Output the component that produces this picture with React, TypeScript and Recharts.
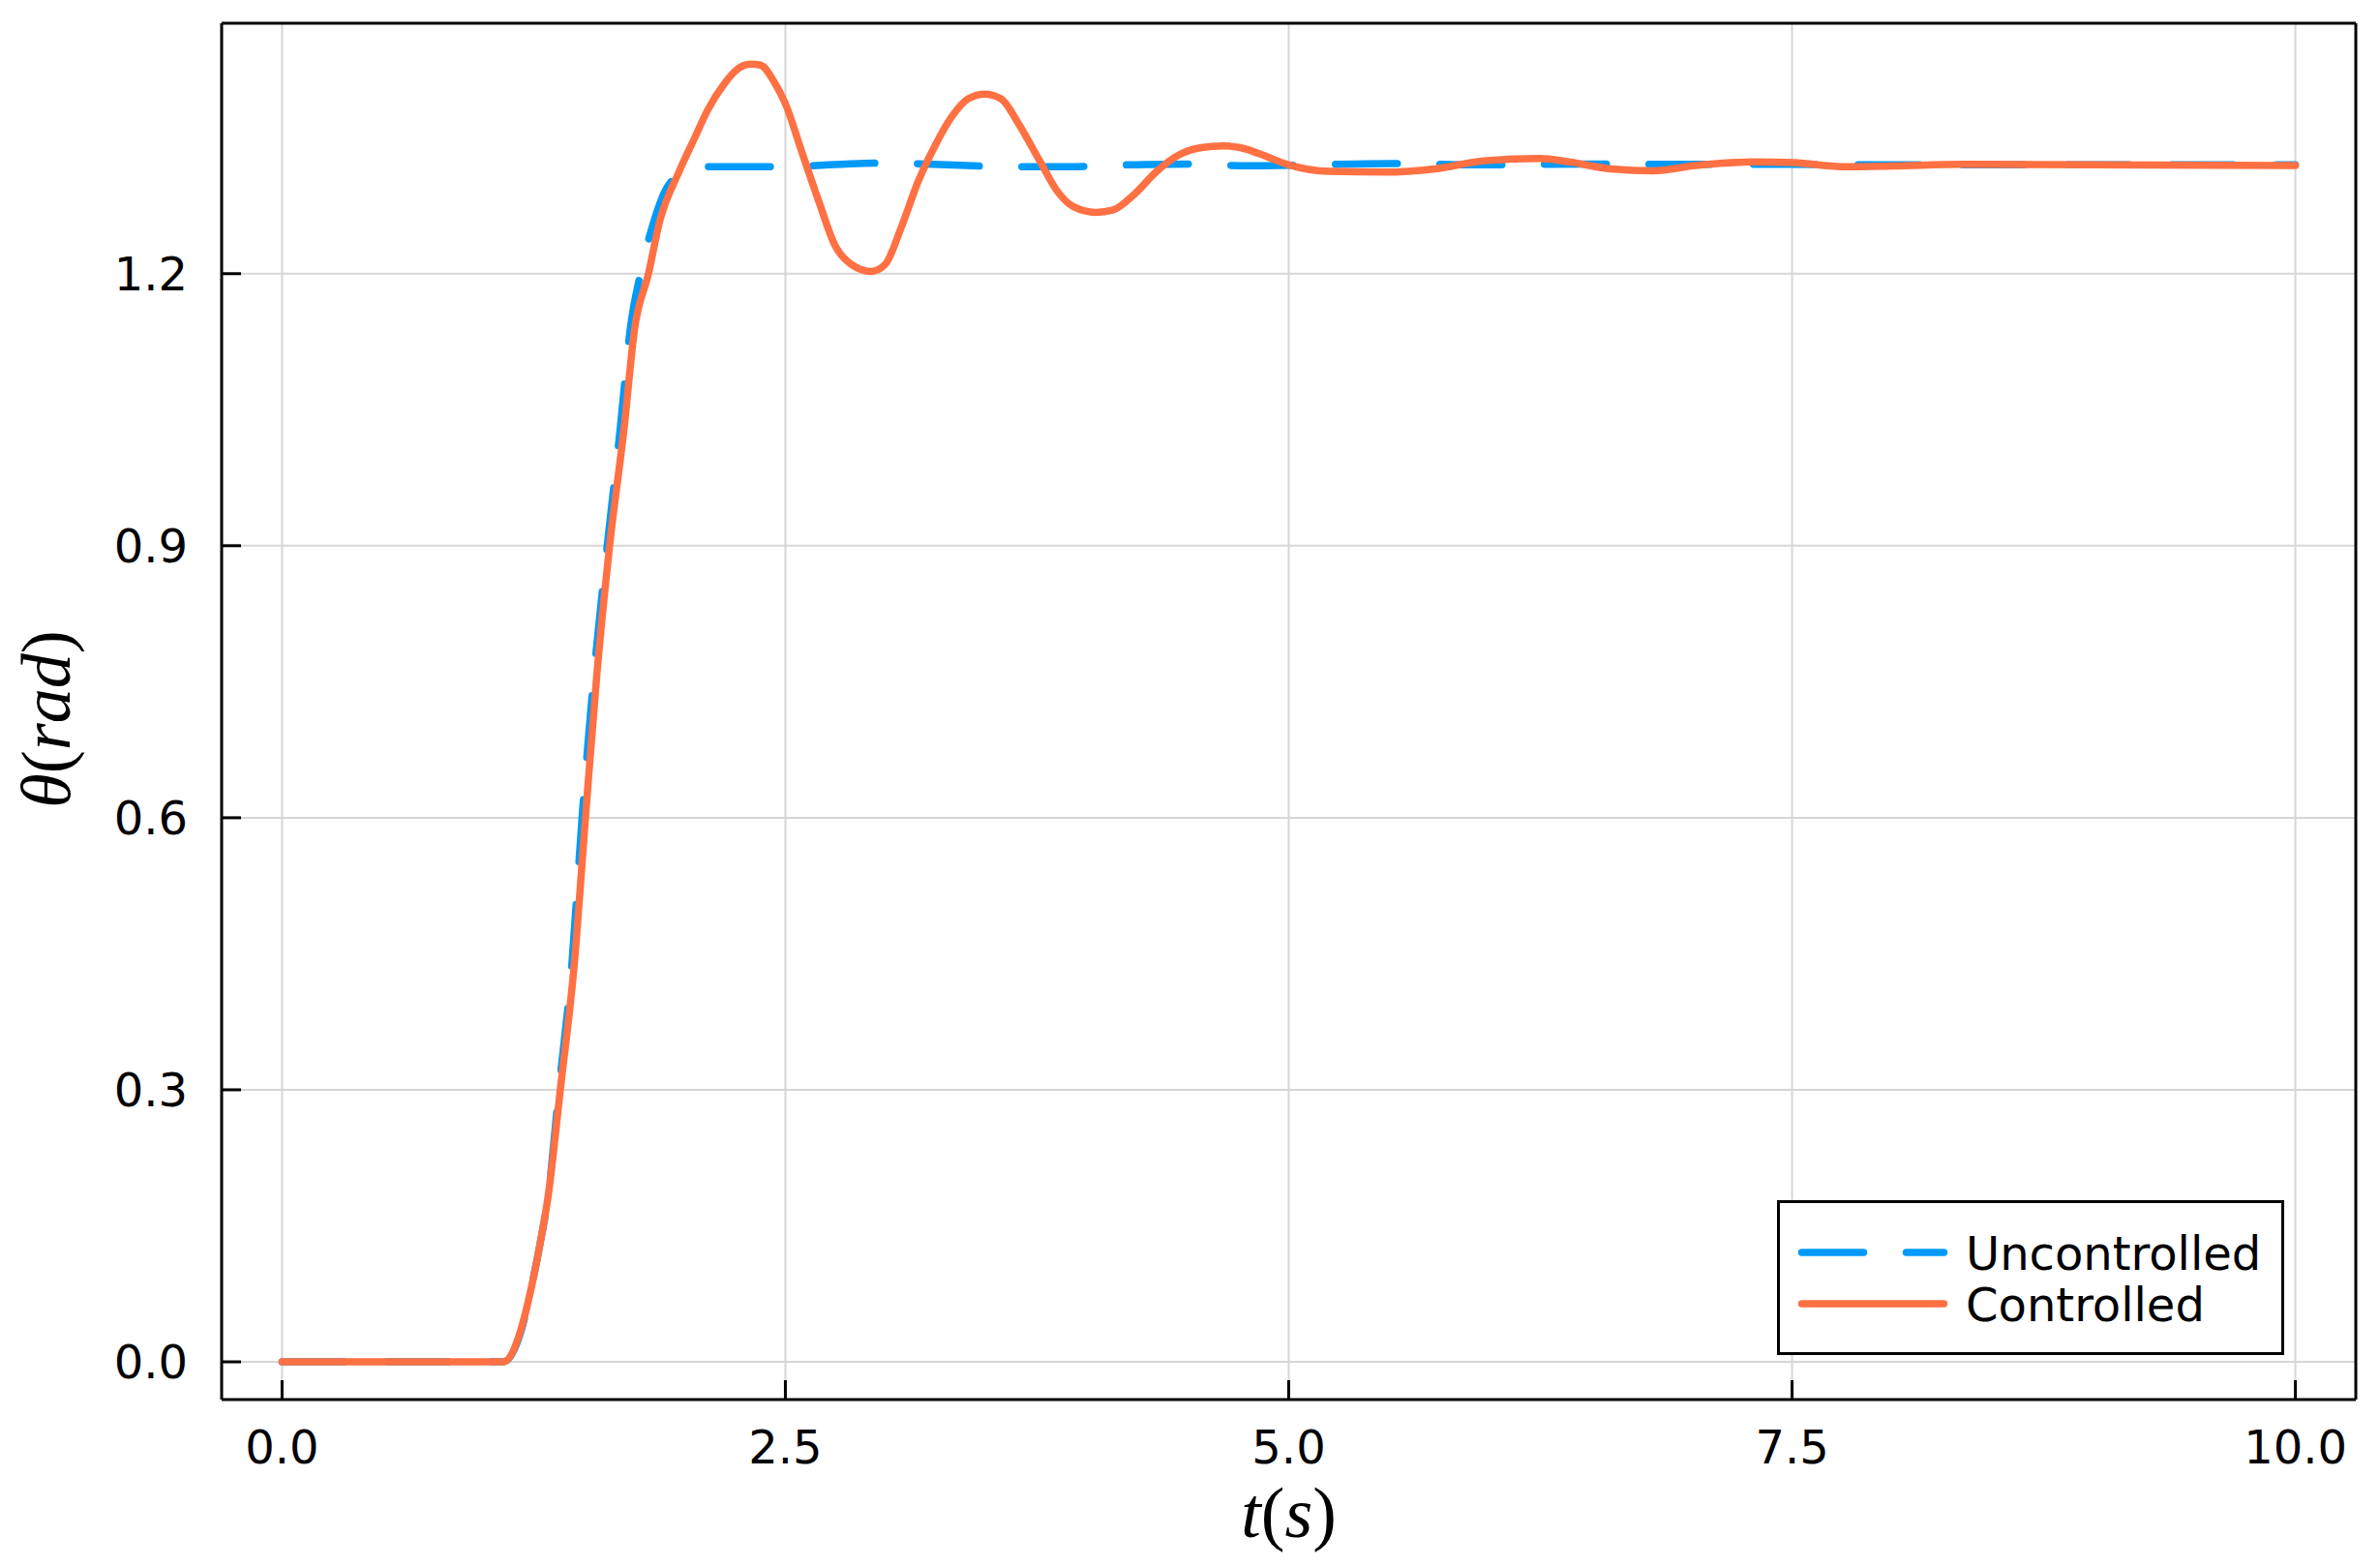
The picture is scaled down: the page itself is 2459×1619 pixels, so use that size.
import React from 'react';
import { LineChart, Line, XAxis, YAxis, CartesianGrid, Legend } from 'recharts';

// ---- data ----
const X_TICKS = [0, 2.5, 5, 7.5, 10];
const Y_TICKS = [0, 0.3, 0.6, 0.9, 1.2];
const X_DOMAIN: [number, number] = [-0.3, 10.3];
const Y_DOMAIN: [number, number] = [-0.0416, 1.4762];

const SERIES_NAMES = ['Uncontrolled', 'Controlled'];
const SERIES_COLORS = ['#009AF9', '#FF7043'];

const T_UNCONTROLLED = [0, 1.1, 1.19, 1.235, 1.283, 1.323, 1.375, 1.44, 1.49, 1.55, 1.615, 1.68, 1.73, 1.78, 1.85, 1.9, 1.97, 2.05, 2.5, 2.8, 3.0, 3.3, 3.6, 3.9, 4.2, 4.5, 4.8, 5.1, 5.5, 6.0, 6.5, 7.0, 7.5, 8.0, 9.0, 10.0];
const THETA_UNCONTROLLED = [0, 0, 0.036, 0.079, 0.132, 0.185, 0.3, 0.44, 0.6, 0.76, 0.9, 1.03, 1.14, 1.2, 1.26, 1.29, 1.31, 1.318, 1.318, 1.321, 1.322, 1.32, 1.318, 1.318, 1.32, 1.321, 1.319, 1.32, 1.3215, 1.32, 1.321, 1.3205, 1.3205, 1.32, 1.32, 1.32];

const T_CONTROLLED = [0, 1.1, 1.187, 1.235, 1.283, 1.323, 1.382, 1.451, 1.507, 1.563, 1.627, 1.699, 1.751, 1.82, 1.876, 1.972, 2.05, 2.113, 2.195, 2.264, 2.33, 2.376, 2.443, 2.5, 2.582, 2.664, 2.747, 2.829, 2.926, 2.995, 3.077, 3.16, 3.243, 3.326, 3.408, 3.491, 3.574, 3.656, 3.766, 3.849, 3.932, 4.042, 4.125, 4.235, 4.345, 4.455, 4.566, 4.676, 4.759, 4.853, 5.0, 5.2, 5.48, 5.726, 5.971, 6.25, 6.39, 6.6, 6.81, 7.02, 7.3, 7.51, 7.75, 8.0, 8.35, 9.0, 10.0];
const THETA_CONTROLLED = [0, 0, 0.036, 0.0786, 0.132, 0.185, 0.3, 0.4375, 0.6, 0.7565, 0.9, 1.03, 1.139, 1.2, 1.258, 1.3125, 1.35, 1.38, 1.409, 1.426, 1.431, 1.43, 1.412, 1.3875, 1.334, 1.281, 1.231, 1.21, 1.2025, 1.21, 1.252, 1.302, 1.341, 1.373, 1.393, 1.398, 1.3925, 1.366, 1.3234, 1.2914, 1.2737, 1.2676, 1.27, 1.288, 1.313, 1.331, 1.339, 1.341, 1.339, 1.3324, 1.32, 1.3128, 1.312, 1.3156, 1.3245, 1.327, 1.3234, 1.3156, 1.3135, 1.3192, 1.3234, 1.3224, 1.318, 1.3188, 1.3206, 1.32, 1.3192];

const pair = (ts: number[], vs: number[]) => ts.map((t, i) => ({ t, v: vs[i] }));
const uncontrolledData = pair(T_UNCONTROLLED, THETA_UNCONTROLLED);
const controlledData = pair(T_CONTROLLED, THETA_CONTROLLED);

const DASH = '64 44';
const LW = 7.5;
const TICK_FONT = { fill: '#000', fontSize: 48, fontFamily: 'DejaVu Sans' };
const AXIS_LINE = { stroke: '#000', strokeWidth: 3 };
const TICK_LINE = { stroke: '#000', strokeWidth: 3 };
const LABEL_FONT = "'Liberation Serif', 'Times New Roman', serif";

const XLabel = (props: any) => {
  const vb = props.viewBox || {};
  const cx = (vb.x || 0) + (vb.width || 0) / 2;
  return (
    <text x={cx} y={1588} textAnchor="middle" fontFamily={LABEL_FONT} fontSize={74} fill="#000">
      <tspan fontStyle="italic">t</tspan>
      <tspan>(</tspan>
      <tspan fontStyle="italic">s</tspan>
      <tspan>)</tspan>
    </text>
  );
};

const YLabel = (props: any) => {
  const vb = props.viewBox || {};
  const cy = (vb.y || 0) + (vb.height || 0) / 2 + 8;
  const cx = 72;
  return (
    <text x={cx} y={cy} textAnchor="middle" transform={`rotate(-90 ${cx} ${cy})`} fontFamily={LABEL_FONT} fontSize={72} fill="#000">
      <tspan fontStyle="italic">θ</tspan>
      <tspan>(</tspan>
      <tspan fontStyle="italic">rad</tspan>
      <tspan>)</tspan>
    </text>
  );
};

const LegendBox = () => (
  <svg width={524} height={160} style={{ display: 'block' }}>
    <rect x={1.5} y={1.5} width={521} height={157} fill="#fff" stroke="#000" strokeWidth={3} />
    {SERIES_NAMES.map((name, i) => (
      <g key={name}>
        <line
          x1={25.5}
          x2={172.5}
          y1={54 + i * 53}
          y2={54 + i * 53}
          stroke={SERIES_COLORS[i]}
          strokeWidth={LW}
          strokeLinecap="round"
          strokeDasharray={i === 0 ? DASH : undefined}
        />
        <text x={195} y={72 + i * 53} fontFamily="DejaVu Sans" fontSize={48} fill="#000">
          {name}
        </text>
      </g>
    ))}
  </svg>
);

export default function App() {
  return (
    <div style={{ position: 'absolute', left: 0, top: 0, width: 2459, height: 1619, background: '#fff' }}>
      <LineChart width={2459} height={1619} margin={{ top: 23, right: 24, bottom: 0, left: 0 }}>
        <CartesianGrid xAxisId="x" yAxisId="y" stroke="#d6d6d6" strokeWidth={2} />
        <XAxis
          xAxisId="x"
          type="number"
          dataKey="t"
          domain={X_DOMAIN}
          allowDataOverflow
          ticks={X_TICKS}
          interval={0}
          tickFormatter={(v: number) => v.toFixed(1)}
          height={173}
          tickSize={-20}
          tickMargin={52}
          tickLine={TICK_LINE}
          axisLine={AXIS_LINE}
          tick={TICK_FONT}
          label={<XLabel />}
        />
        <XAxis
          xAxisId="xt"
          orientation="top"
          type="number"
          dataKey="t"
          domain={X_DOMAIN}
          allowDataOverflow
          ticks={X_TICKS}
          interval={0}
          height={1}
          tickSize={-20}
          tickLine={TICK_LINE}
          axisLine={AXIS_LINE}
          tick={false}
        />
        <YAxis
          yAxisId="y"
          type="number"
          domain={Y_DOMAIN}
          allowDataOverflow
          ticks={Y_TICKS}
          interval={0}
          tickFormatter={(v: number) => v.toFixed(1)}
          width={229}
          tickSize={-20}
          tickMargin={55}
          tickLine={TICK_LINE}
          axisLine={AXIS_LINE}
          tick={TICK_FONT}
          label={<YLabel />}
        />
        <YAxis
          yAxisId="yr"
          orientation="right"
          type="number"
          domain={Y_DOMAIN}
          allowDataOverflow
          ticks={Y_TICKS}
          interval={0}
          width={1}
          tickSize={-20}
          tickLine={TICK_LINE}
          axisLine={AXIS_LINE}
          tick={false}
        />
        <Line
          xAxisId="x"
          yAxisId="y"
          data={uncontrolledData}
          dataKey="v"
          name={SERIES_NAMES[0]}
          type="monotone"
          stroke={SERIES_COLORS[0]}
          strokeWidth={LW}
          strokeDasharray={DASH}
          strokeLinecap="round"
          strokeLinejoin="round"
          dot={false}
          activeDot={false}
          isAnimationActive={false}
        />
        <Line
          xAxisId="x"
          yAxisId="y"
          data={controlledData}
          dataKey="v"
          name={SERIES_NAMES[1]}
          type="monotone"
          stroke={SERIES_COLORS[1]}
          strokeWidth={LW}
          strokeLinecap="round"
          strokeLinejoin="round"
          dot={false}
          activeDot={false}
          isAnimationActive={false}
        />
        <Legend
          layout="vertical"
          align="center"
          verticalAlign="middle"
          wrapperStyle={{ position: 'absolute', left: 1836, top: 1240, width: 524, height: 160 }}
          content={() => <LegendBox />}
        />
      </LineChart>
    </div>
  );
}
